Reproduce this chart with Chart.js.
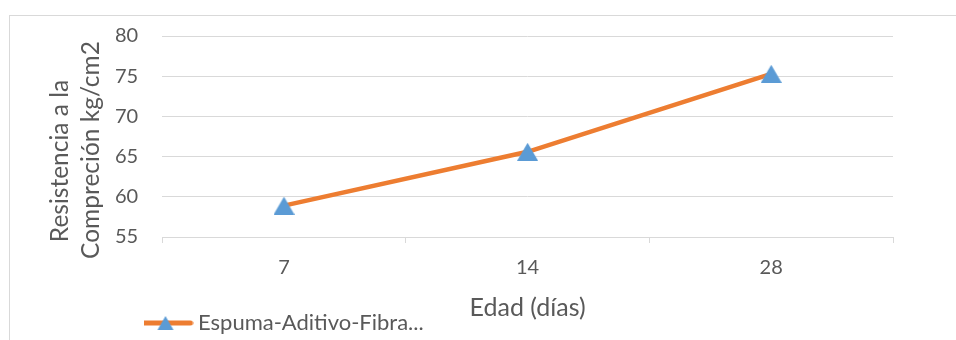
<!DOCTYPE html>
<html>
<head>
<meta charset="utf-8">
<script src="https://cdn.jsdelivr.net/npm/chart.js@4/dist/chart.umd.min.js"></script>
<style>
  html, body { margin: 0; padding: 0; background: #fff; width: 956px; height: 340px; overflow: hidden; }
  #frame { position: absolute; left: 9px; top: 15px; width: 1000px; height: 400px;
           border-left: 1px solid #d9d9d9; border-top: 1px solid #d9d9d9; box-sizing: border-box; }
  #wrap { position: absolute; left: 0; top: 0; width: 956px; height: 340px; }
</style>
</head>
<body>
<div id="frame"></div>
<div id="wrap"><canvas id="c" width="956" height="340"></canvas></div>
<script>
// Age of the specimens (days) and compressive strength (kg/cm2)
const edades = ['7', '14', '28'];
const resistencia = [58.9, 65.6, 75.3];
const serieNombre = 'Espuma-Aditivo-Fibra...';
const tituloY = ['Resistencia a la', 'Compreción kg/cm2'];
const tituloX = 'Edad (días)';
const yMin = 55, yMax = 80, yPaso = 5;

const NARANJA = '#ED7D31';
const AZUL = '#5B9BD5';
const GRIS = '#d9d9d9';
const TEXTO = '#595959';
const FUENTE = 'Lato, "Open Sans", sans-serif';

// Triangle marker as a small canvas so it sits centred on each point
function marcadorTriangulo(w, h) {
  const c = document.createElement('canvas');
  c.width = w; c.height = h;
  const g = c.getContext('2d');
  g.fillStyle = AZUL;
  g.beginPath();
  g.moveTo(w / 2, 0);
  g.lineTo(w, h);
  g.lineTo(0, h);
  g.closePath();
  g.fill();
  return c;
}

// Legend swatch: orange line with the triangle on top
function iconoLeyenda(w, h) {
  const c = document.createElement('canvas');
  c.width = w; c.height = h;
  const g = c.getContext('2d');
  g.strokeStyle = NARANJA;
  g.lineWidth = 5;
  g.lineCap = 'round';
  g.beginPath();
  g.moveTo(3, h / 2);
  g.lineTo(w - 3, h / 2);
  g.stroke();
  g.drawImage(marcadorTriangulo(16, 14), (w - 16) / 2, (h - 14) / 2);
  return c;
}

const marcador = marcadorTriangulo(21, 18);
const icono = iconoLeyenda(56, 18);

// Place the legend under the y-axis labels, just below the x-axis title
const LEYENDA_X = 144;
const LEYENDA_Y = 323;
const moverLeyenda = {
  id: 'moverLeyenda',
  afterLayout(chart) {
    const lg = chart.legend;
    if (!lg) return;
    const pad = lg.options.labels.padding;
    const w = lg.right - lg.left;
    const h = lg.bottom - lg.top;
    lg.left = LEYENDA_X - pad;
    lg.right = lg.left + w;
    lg.top = LEYENDA_Y - pad - lg.options.labels.font.size / 2;
    lg.bottom = lg.top + h;
  }
};

// Two-line rotated y-axis title; each line is centred on its own point
const TITULO_Y_X = [60, 91];
const TITULO_Y_Y = [161, 150];
const tituloEjeY = {
  id: 'tituloEjeY',
  afterDraw(chart) {
    const ctx = chart.ctx;
    ctx.save();
    ctx.fillStyle = TEXTO;
    ctx.font = '24.5px ' + FUENTE;
    ctx.textAlign = 'center';
    ctx.textBaseline = 'middle';
    tituloY.forEach((linea, i) => {
      ctx.save();
      ctx.translate(TITULO_Y_X[i], TITULO_Y_Y[i]);
      ctx.rotate(-Math.PI / 2);
      ctx.fillText(linea, 0, 0);
      ctx.restore();
    });
    ctx.restore();
  }
};

new Chart(document.getElementById('c'), {
  type: 'line',
  data: {
    labels: edades,
    datasets: [{
      label: serieNombre,
      data: resistencia,
      borderColor: NARANJA,
      backgroundColor: AZUL,
      borderWidth: 4.5,
      tension: 0,
      pointStyle: marcador,
      pointRadius: 10,
      pointHoverRadius: 10
    }]
  },
  options: {
    responsive: false,
    animation: false,
    events: [],
    layout: { padding: { left: 91, right: 63, top: 34, bottom: -15 } },
    scales: {
      x: {
        type: 'category',
        offset: true,
        grid: { offset: true, drawOnChartArea: false, drawTicks: true, tickLength: 6, color: GRIS },
        border: { display: true, color: GRIS, width: 1 },
        ticks: { color: TEXTO, font: { family: FUENTE, size: 20 }, padding: 13, maxRotation: 0 },
        title: { display: true, text: tituloX, color: TEXTO, font: { family: FUENTE, size: 25 }, padding: { top: 0, bottom: 0 } }
      },
      y: {
        min: yMin,
        max: yMax,
        ticks: { stepSize: yPaso, color: TEXTO, font: { family: FUENTE, size: 20 }, padding: 24 },
        grid: { color: GRIS, drawTicks: false, lineWidth: 1 },
        border: { display: false },
        title: { display: false }
      }
    },
    plugins: {
      legend: {
        position: 'bottom',
        align: 'start',
        labels: {
          color: TEXTO,
          font: { family: FUENTE, size: 22, lineHeight: 1 },
          usePointStyle: true,
          pointStyleWidth: 43,
          padding: 0,
          generateLabels() {
            return [{ text: serieNombre, pointStyle: icono, fillStyle: AZUL, strokeStyle: NARANJA, lineWidth: 0, fontColor: TEXTO, datasetIndex: 0 }];
          }
        }
      },
      tooltip: { enabled: false }
    }
  },
  plugins: [moverLeyenda, tituloEjeY]
});
</script>
</body>
</html>
